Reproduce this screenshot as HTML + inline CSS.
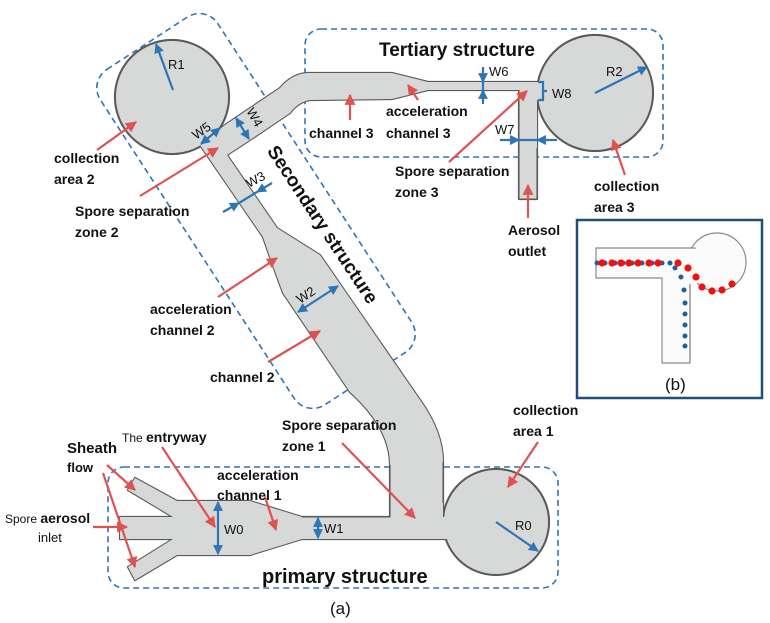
<!DOCTYPE html>
<html><head><meta charset="utf-8"><style>
html,body{margin:0;padding:0;background:#fff;}
svg{display:block;}
text{font-family:"Liberation Sans",Arial,sans-serif;fill:#111;}
.b{font-weight:bold;font-size:14px;}
.w{font-size:13px;fill:#222;}
</style></head><body>
<svg width="770" height="623" viewBox="0 0 770 623" xmlns="http://www.w3.org/2000/svg">
<defs>
<marker id="ra" viewBox="0 0 10 10" refX="9" refY="5" markerWidth="5" markerHeight="5" orient="auto"><path d="M0,0 L10,5 L0,10 z" fill="#e05252"/></marker>
<marker id="ba" viewBox="0 0 10 10" refX="9" refY="5" markerWidth="4.5" markerHeight="4.5" orient="auto-start-reverse"><path d="M0,0 L10,5 L0,10 z" fill="#2e75b6"/></marker>
</defs>

<!-- dashed boxes -->
<g fill="none" stroke="#2e75b6" stroke-width="1.6" stroke-dasharray="6,4">
<rect x="108" y="467" width="450" height="121" rx="16"/>
<rect x="305" y="29" width="358" height="128" rx="16"/>
<rect x="-70" y="-200" width="140" height="400" rx="22" transform="translate(256,211) rotate(-33)"/>
</g>

<!-- channels: stroke layer -->
<g fill="#d7d9d8" stroke="#5a5a5a" stroke-width="2.2" stroke-linejoin="round">
<circle cx="172" cy="97" r="57"/>
<circle cx="496" cy="522" r="53"/>
<circle cx="595" cy="93" r="58"/>
<path id="p1" d="M120,517 L173,517 L128,490 L135,478 L177,501 L250,501 L302,517 L460,517 L460,539 L302,539 L250,555 L177,555 L135,580 L128,567 L173,539 L120,539 Z"/>
<path id="p2" d="M390,528 L390,465 Q390,428 350,392 L283,293 L272,263 L263,237 L200,145 L215,135 L227,155 L277,228 L320,255 L420,400 Q443,432 443,462 L443,528 Z"/>
<path id="p3" d="M200,145 L225,125 L280,88 Q292,74 307,73 L392,73 L428,82 L548,82 L548,100 L537,100 L537,199 L519,199 L519,90 L428,90 L392,99 L310,100 Q298,102 290,113 L250,140 L227,155 Z"/>
</g>
<!-- fill layer -->
<g fill="#d7d9d8" stroke="none">
<circle cx="172" cy="97" r="56"/>
<circle cx="496" cy="522" r="52"/>
<circle cx="595" cy="93" r="57"/>
<use href="#p1"/><use href="#p2"/><use href="#p3"/>
</g>
<!-- restore outer edges where fills overlapped -->
<g fill="none" stroke="#5a5a5a" stroke-width="1.1">
<path d="M443,462 L443,503"/>
<path d="M390,465 L390,517 L302,517"/>
<path d="M519,90 L519,199 L537,199 L537,148"/>
</g>

<!-- red arrows -->
<g stroke="#e05252" stroke-width="2.2" marker-end="url(#ra)">
<line x1="97" y1="150" x2="136" y2="122"/>
<line x1="140" y1="196" x2="218" y2="148"/>
<line x1="218" y1="297" x2="277" y2="258"/>
<line x1="268" y1="362" x2="320" y2="331"/>
<line x1="350" y1="120" x2="350" y2="95"/>
<line x1="418" y1="100" x2="408" y2="85"/>
<line x1="449" y1="162" x2="527" y2="91"/>
<line x1="528" y1="218" x2="528" y2="185"/>
<line x1="625" y1="175" x2="613" y2="140"/>
<line x1="538" y1="442" x2="508" y2="487"/>
<line x1="342" y1="443" x2="415" y2="518"/>
<line x1="265" y1="497" x2="276" y2="530"/>
<line x1="162" y1="447" x2="215" y2="527"/>
<line x1="107" y1="465" x2="135" y2="490"/>
<line x1="103" y1="473" x2="135" y2="567"/>
<line x1="93" y1="527" x2="127" y2="527"/>
</g>

<!-- blue dimension arrows -->
<g stroke="#2e75b6" stroke-width="2.2">
<line x1="173" y1="90" x2="156" y2="44" marker-end="url(#ba)"/>
<line x1="496" y1="522" x2="538" y2="551" marker-end="url(#ba)"/>
<line x1="595" y1="93" x2="647" y2="67" marker-end="url(#ba)"/>
<line x1="218" y1="502" x2="218" y2="554" marker-start="url(#ba)" marker-end="url(#ba)"/>
<line x1="318" y1="518" x2="318" y2="538" marker-start="url(#ba)" marker-end="url(#ba)"/>
<line x1="298" y1="312" x2="338" y2="286" marker-start="url(#ba)" marker-end="url(#ba)"/>
<line x1="236" y1="118" x2="249" y2="139" marker-start="url(#ba)" marker-end="url(#ba)"/>
<line x1="201" y1="144" x2="220" y2="128" marker-start="url(#ba)" marker-end="url(#ba)"/>
<line x1="223" y1="212" x2="239" y2="203" marker-end="url(#ba)"/>
<line x1="272" y1="183" x2="257" y2="192" marker-end="url(#ba)"/>
<line x1="239" y1="203" x2="257" y2="192"/>
<line x1="483" y1="67" x2="483" y2="82" marker-end="url(#ba)"/>
<line x1="483" y1="104" x2="483" y2="90" marker-end="url(#ba)"/>
<line x1="483" y1="82" x2="483" y2="90"/>
<line x1="500" y1="140" x2="519" y2="140" marker-end="url(#ba)"/>
<line x1="557" y1="140" x2="537" y2="140" marker-end="url(#ba)"/>
<line x1="519" y1="140" x2="537" y2="140"/>
<path d="M538,82 L543,82 L543,100 L538,100 M543,91 L547,91" fill="none"/>
</g>

<!-- dimension labels -->
<g class="w">
<text x="168" y="69">R1</text>
<text x="515" y="530">R0</text>
<text x="606" y="76">R2</text>
<text x="224" y="534">W0</text>
<text x="324" y="533">W1</text>
<text x="489" y="76">W6</text>
<text x="552" y="98">W8</text>
<text x="495" y="134">W7</text>
<text transform="translate(196,140) rotate(-35)">W5</text>
<text transform="translate(246,111) rotate(60)">W4</text>
<text transform="translate(249,188) rotate(-28)">W3</text>
<text transform="translate(300,304) rotate(-33)">W2</text>
</g>

<!-- labels -->
<g class="b">
<text x="54" y="163">collection</text><text x="54" y="184">area 2</text>
<text x="75" y="216">Spore separation</text><text x="75" y="237">zone 2</text>
<text x="150" y="314">acceleration</text><text x="150" y="335">channel 2</text>
<text x="210" y="382">channel 2</text>
<text x="309" y="138">channel 3</text>
<text x="386" y="116">acceleration</text><text x="386" y="138">channel 3</text>
<text x="395" y="176">Spore separation</text><text x="395" y="197">zone 3</text>
<text x="508" y="235">Aerosol</text><text x="508" y="256">outlet</text>
<text x="594" y="191">collection</text><text x="594" y="212">area 3</text>
<text x="513" y="415">collection</text><text x="513" y="436">area 1</text>
<text x="282" y="430">Spore separation</text><text x="282" y="451">zone 1</text>
<text x="217" y="480">acceleration</text><text x="217" y="500">channel 1</text>
<text x="67" y="453" style="font-size:15px">Sheath</text>
<text x="67" y="472" style="font-size:13px">flow</text>
<text x="122" y="442"><tspan style="font-weight:normal;font-size:12px">The </tspan>entryway</text>
<text x="5" y="523"><tspan style="font-weight:normal;font-size:12px">Spore </tspan>aerosol</text>
<text x="38" y="542" style="font-size:13px;font-weight:normal">inlet</text>
</g>
<text x="379" y="56" style="font-weight:bold;font-size:19px">Tertiary structure</text>
<text x="262" y="583" style="font-weight:bold;font-size:20px">primary structure</text>
<text x="322" y="225" text-anchor="middle" dominant-baseline="central" transform="rotate(56.6 322 225)" style="font-weight:bold;font-size:19px">Secondary structure</text>
<text x="330" y="614" style="font-size:17px">(a)</text>

<!-- (b) inset -->
<rect x="577" y="220" width="185" height="178" fill="#fff" stroke="#1f4e79" stroke-width="2.5"/>
<g fill="#fbfbfb" stroke="#8a8a8a" stroke-width="1.2">
<circle cx="717" cy="262" r="29"/>
<path d="M596,248 L695,248 L695,278 L690,278 L690,363 L662,363 L662,278 L596,278 Z"/>
</g>
<rect x="689" y="249" width="8" height="35" fill="#fbfbfb"/>
<path d="M690,284 L690,363" stroke="#8a8a8a" stroke-width="1.2"/>
<g fill="#1f5f99">
<circle cx="597" cy="263" r="2.5"/><circle cx="605" cy="263" r="2.5"/><circle cx="615" cy="263" r="2.5"/><circle cx="623" cy="263" r="2.5"/><circle cx="632" cy="263" r="2.5"/><circle cx="642" cy="263" r="2.5"/><circle cx="652" cy="263" r="2.5"/><circle cx="662" cy="263" r="2.5"/><circle cx="670" cy="263" r="2.5"/>
<circle cx="675" cy="268" r="2.5"/><circle cx="681" cy="277" r="2.5"/><circle cx="684" cy="290" r="2.5"/><circle cx="685" cy="303" r="2.5"/><circle cx="685" cy="314" r="2.5"/><circle cx="685" cy="325" r="2.5"/><circle cx="685" cy="336" r="2.5"/><circle cx="685" cy="346" r="2.5"/>
</g>
<g fill="#f40f0f">
<circle cx="602" cy="263" r="3.6"/><circle cx="612" cy="263" r="3.6"/><circle cx="621" cy="263" r="3.6"/><circle cx="629" cy="263" r="3.6"/><circle cx="638" cy="263" r="3.6"/><circle cx="649" cy="263" r="3.6"/><circle cx="658" cy="263" r="3.6"/><circle cx="678" cy="263" r="3.6"/>
<circle cx="688" cy="268" r="3.6"/><circle cx="696" cy="277" r="3.6"/><circle cx="702" cy="287" r="3.6"/><circle cx="712" cy="291" r="3.6"/><circle cx="722" cy="290" r="3.6"/><circle cx="732" cy="284" r="3.6"/>
</g>
<text x="665" y="390" style="font-size:17px">(b)</text>
</svg>
</body></html>
